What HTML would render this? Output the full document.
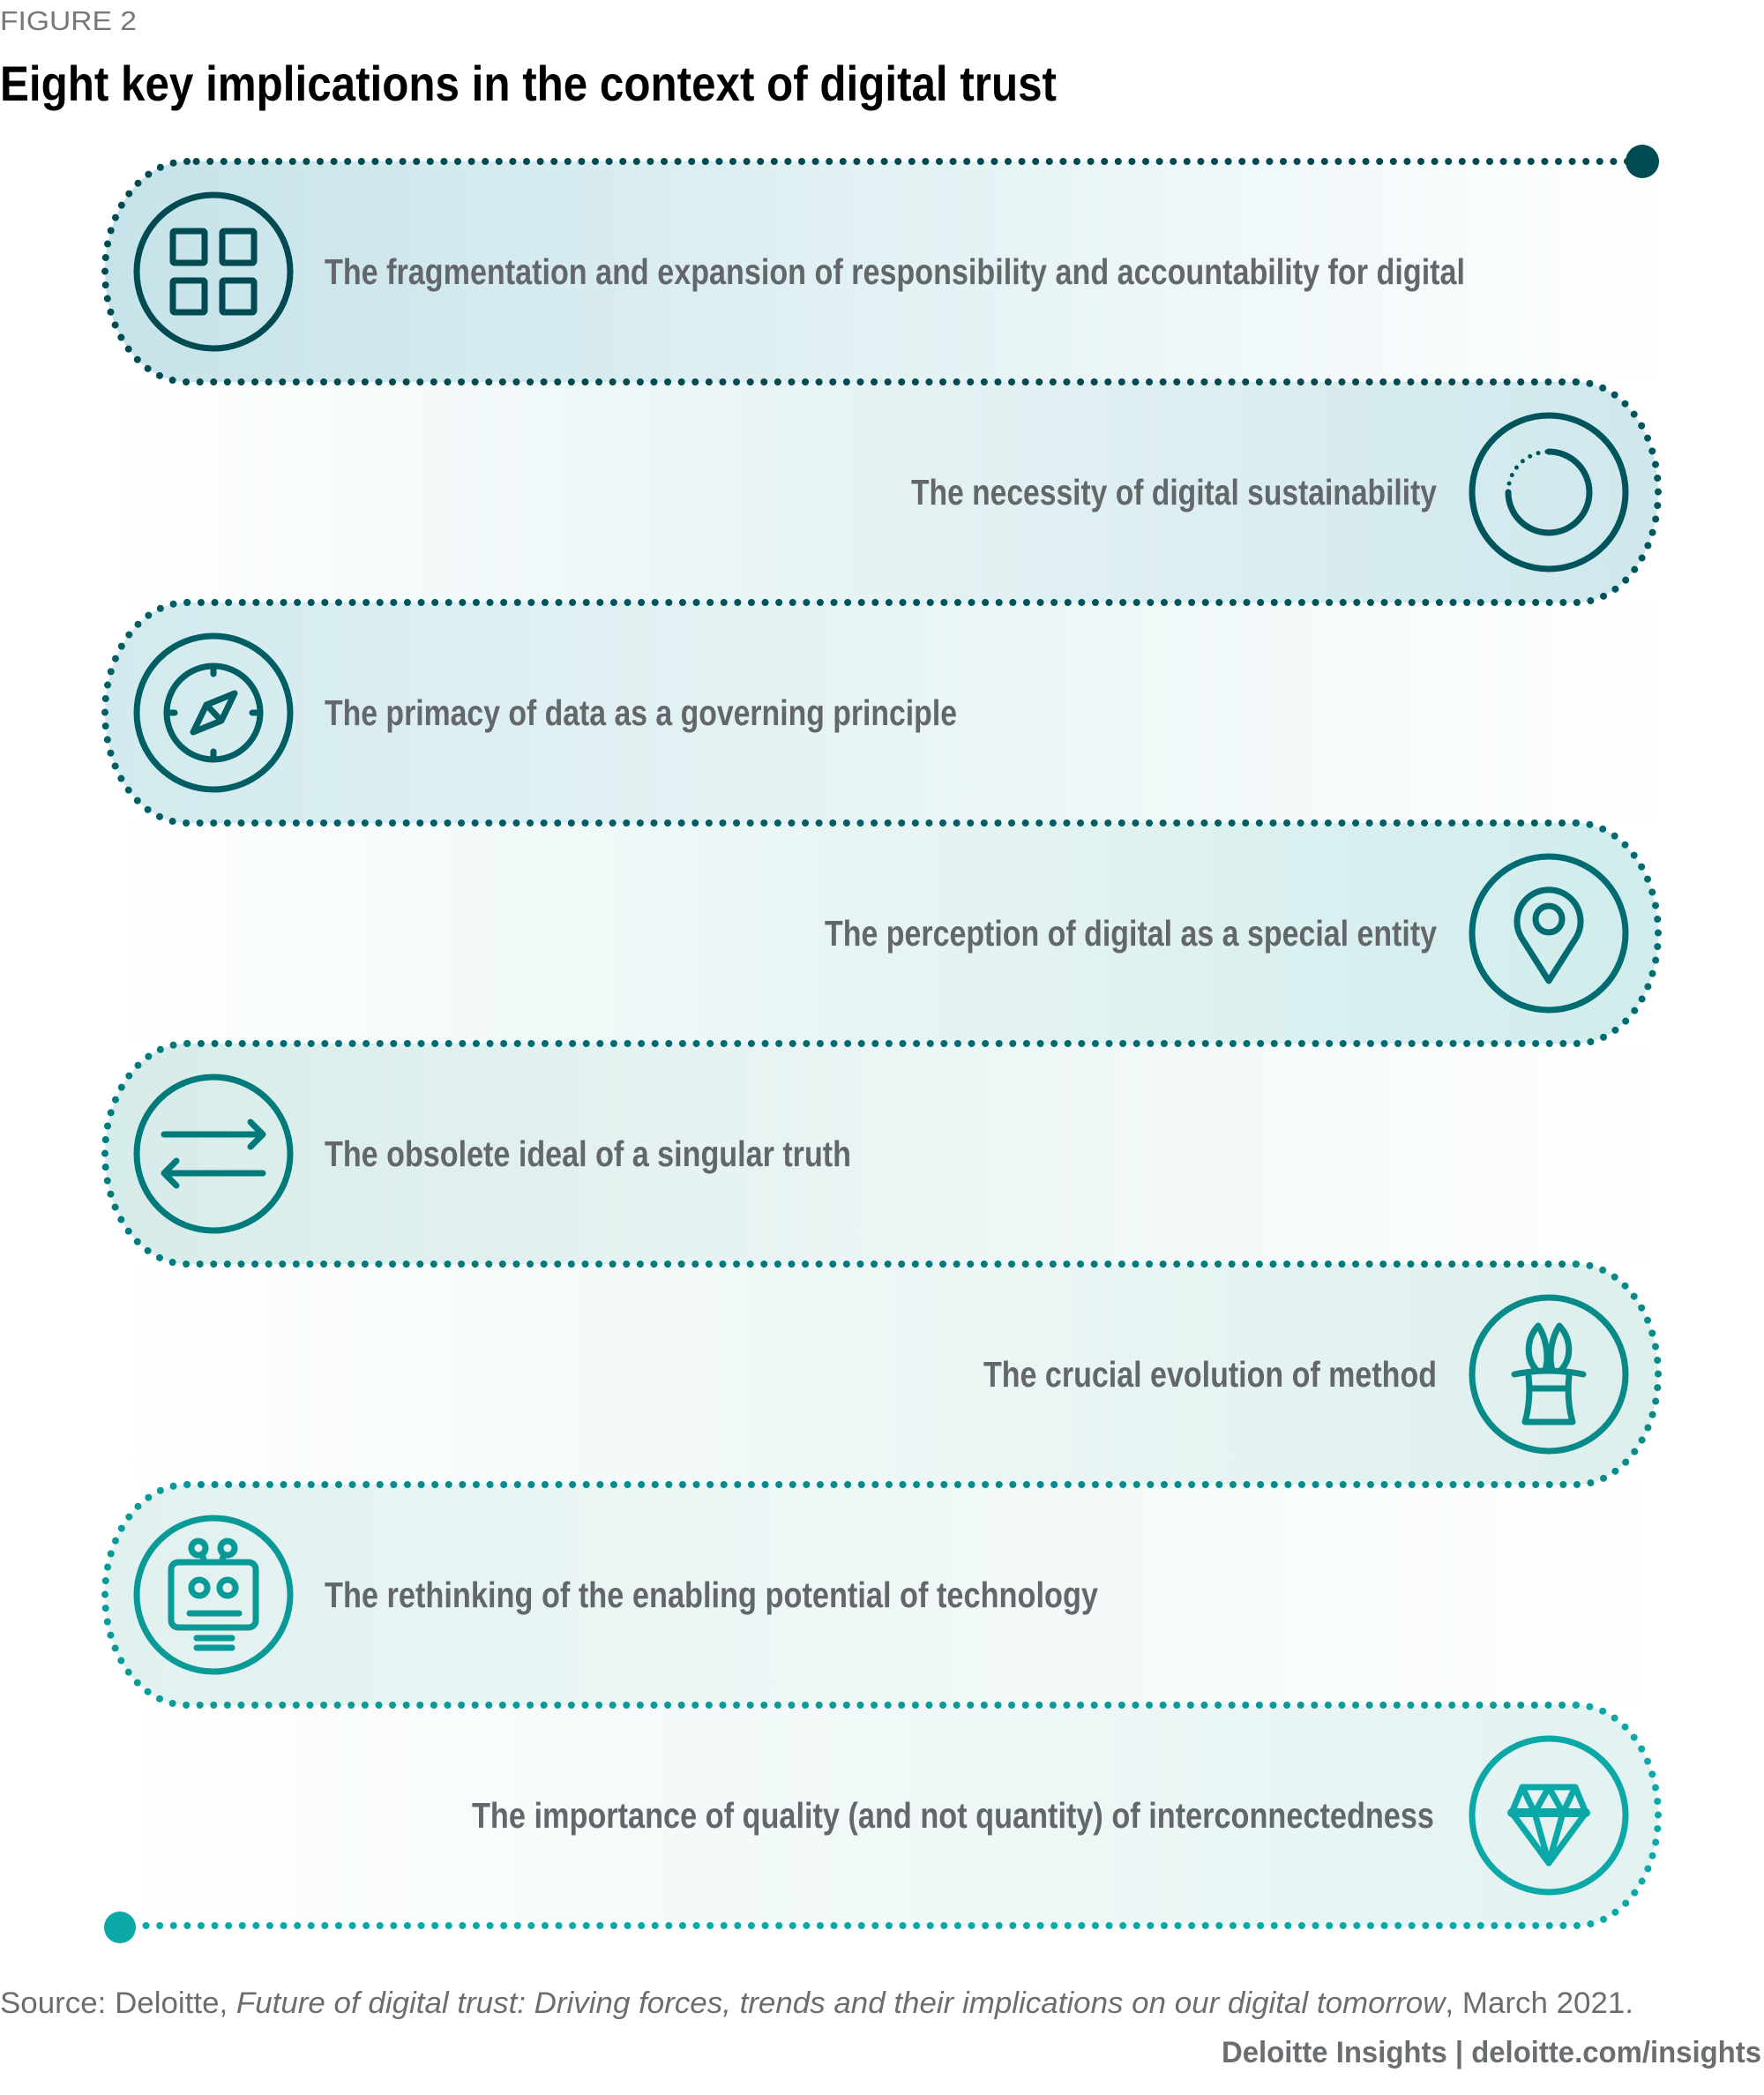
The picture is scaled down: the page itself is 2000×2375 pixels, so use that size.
<!DOCTYPE html>
<html><head><meta charset="utf-8"><style>
html,body{margin:0;padding:0;background:#fff;}
svg{display:block;}
text{font-family:"Liberation Sans",sans-serif;}
</style></head><body>
<svg width="2000" height="2375" viewBox="0 0 2000 2375" xmlns="http://www.w3.org/2000/svg">
<defs>
<linearGradient id="gL0" gradientUnits="userSpaceOnUse" x1="118" x2="1900" y1="0" y2="0"><stop offset="0" stop-color="#c5e3e9"/><stop offset="0.45" stop-color="#e0f0f3"/><stop offset="1" stop-color="#ffffff"/></linearGradient>
<linearGradient id="gR1" gradientUnits="userSpaceOnUse" x1="1880" x2="120" y1="0" y2="0"><stop offset="0" stop-color="#cfe8ec"/><stop offset="0.45" stop-color="#e3f1f3"/><stop offset="1" stop-color="#ffffff"/></linearGradient>
<linearGradient id="gL2" gradientUnits="userSpaceOnUse" x1="118" x2="1900" y1="0" y2="0"><stop offset="0" stop-color="#d2eaee"/><stop offset="0.45" stop-color="#e6f3f4"/><stop offset="1" stop-color="#ffffff"/></linearGradient>
<linearGradient id="gR3" gradientUnits="userSpaceOnUse" x1="1880" x2="120" y1="0" y2="0"><stop offset="0" stop-color="#d0ecec"/><stop offset="0.45" stop-color="#e5f3f3"/><stop offset="1" stop-color="#ffffff"/></linearGradient>
<linearGradient id="gL4" gradientUnits="userSpaceOnUse" x1="118" x2="1900" y1="0" y2="0"><stop offset="0" stop-color="#d6ecea"/><stop offset="0.45" stop-color="#e9f4f3"/><stop offset="1" stop-color="#ffffff"/></linearGradient>
<linearGradient id="gR5" gradientUnits="userSpaceOnUse" x1="1880" x2="120" y1="0" y2="0"><stop offset="0" stop-color="#dcefed"/><stop offset="0.45" stop-color="#ecf6f5"/><stop offset="1" stop-color="#ffffff"/></linearGradient>
<linearGradient id="gL6" gradientUnits="userSpaceOnUse" x1="118" x2="1900" y1="0" y2="0"><stop offset="0" stop-color="#e0f1f0"/><stop offset="0.45" stop-color="#eef7f6"/><stop offset="1" stop-color="#ffffff"/></linearGradient>
<linearGradient id="gR7" gradientUnits="userSpaceOnUse" x1="1880" x2="120" y1="0" y2="0"><stop offset="0" stop-color="#e2f2f1"/><stop offset="0.45" stop-color="#eff8f7"/><stop offset="1" stop-color="#ffffff"/></linearGradient>
</defs>

<!-- fills -->
<path d="M1880 183 H212 A93 125 0 0 0 212 433 H1880 Z" fill="url(#gL0)"/>
<path d="M120 433 H1787 A93 125 0 0 1 1787 683 H120 Z" fill="url(#gR1)"/>
<path d="M1880 683 H212 A93 125 0 0 0 212 933 H1880 Z" fill="url(#gL2)"/>
<path d="M120 933 H1787 A93 125 0 0 1 1787 1183 H120 Z" fill="url(#gR3)"/>
<path d="M1880 1183 H212 A93 125 0 0 0 212 1433 H1880 Z" fill="url(#gL4)"/>
<path d="M120 1433 H1787 A93 125 0 0 1 1787 1683 H120 Z" fill="url(#gR5)"/>
<path d="M1880 1683 H212 A93 125 0 0 0 212 1933 H1880 Z" fill="url(#gL6)"/>
<path d="M120 1933 H1787 A93 125 0 0 1 1787 2183 H120 Z" fill="url(#gR7)"/>

<!-- dotted snake -->
<g fill="none" stroke-width="8" stroke-linecap="round" stroke-dasharray="0 15.6">
<path d="M1845 183 H212" stroke="#004a52"/>
<path d="M212 183 A93 125 0 0 0 212 433 H1787" stroke="#004a52"/>
<path d="M1787 433 A93 125 0 0 1 1787 683 H212" stroke="#00545b"/>
<path d="M212 683 A93 125 0 0 0 212 933 H1787" stroke="#005e64"/>
<path d="M1787 933 A93 125 0 0 1 1787 1183 H212" stroke="#006c72"/>
<path d="M212 1183 A93 125 0 0 0 212 1433 H1787" stroke="#007a7a"/>
<path d="M1787 1433 A93 125 0 0 1 1787 1683 H212" stroke="#088a88"/>
<path d="M212 1683 A93 125 0 0 0 212 1933 H1787" stroke="#099a98"/>
<path d="M1787 1933 A93 125 0 0 1 1787 2183 H150" stroke="#0aa8a6"/>
</g>
<circle cx="1862" cy="183" r="19" fill="#004a52"/>
<circle cx="136" cy="2185" r="18" fill="#0aa8a6"/>

<!-- icons -->
<g fill="none" stroke-width="7" stroke-linecap="round" stroke-linejoin="round">
<!-- 1 squares -->
<g transform="translate(242,308)" stroke="#004a52">
<circle r="87"/>
<rect x="-46" y="-46" width="36" height="36" rx="2"/>
<rect x="10" y="-46" width="36" height="36" rx="2"/>
<rect x="-46" y="10" width="36" height="36" rx="2"/>
<rect x="10" y="10" width="36" height="36" rx="2"/>
</g>
<!-- 2 ring -->
<g transform="translate(1756,558)" stroke="#00545b">
<circle r="87"/>
<path d="M0 -46 A46 46 0 1 1 -46 0"/>
<path d="M-46 0 A46 46 0 0 1 0 -46" stroke-width="5" stroke-dasharray="0 10"/>
</g>
<!-- 3 compass -->
<g transform="translate(242,808)" stroke="#005e64">
<circle r="87"/>
<circle r="53"/>
<path d="M0 -53 V-44 M0 53 V44 M-53 0 H-44 M53 0 H44"/>
<path d="M24 -22 L-8 -9 L-23 22 L9 9 Z M-8 -9 L9 9"/>
</g>
<!-- 4 pin -->
<g transform="translate(1756,1058)" stroke="#006c72">
<circle r="87"/>
<path d="M0 54 L-31 5 A36 36 0 1 1 31 5 Z"/>
<circle cy="-16" r="15"/>
</g>
<!-- 5 arrows -->
<g transform="translate(242,1308)" stroke="#007a7a">
<circle r="87"/>
<path d="M-56 -22 H56 M42 -36 L56 -22 L42 -8"/>
<path d="M56 22 H-56 M-42 8 L-56 22 L-42 36"/>
</g>
<!-- 6 hat -->
<g transform="translate(1756,1558)" stroke="#088a88">
<circle r="87"/>
<path d="M-14 -5 C-26 -18 -26 -40 -12 -55 C-2 -40 0 -18 -4 -5"/>
<path d="M14 -5 C26 -18 26 -40 12 -55 C2 -40 0 -18 4 -5"/>
<path d="M-39 0 Q0 -8 39 0"/>
<path d="M-23 1 Q-20 30 -27 54 H27 Q20 30 23 1"/>
<path d="M-22 16 H22"/>
</g>
<!-- 7 robot -->
<g transform="translate(242,1808)" stroke="#099a98">
<circle r="87"/>
<rect x="-48" y="-37" width="96" height="74" rx="8"/>
<circle cx="-17" cy="-53" r="8"/>
<circle cx="16" cy="-53" r="8"/>
<path d="M-13 -46 L-10 -37 M12 -46 L9 -37"/>
<circle cx="-16" cy="-8" r="9"/>
<circle cx="16" cy="-8" r="9"/>
<path d="M-27 21 H29 M-19 49 H21 M-19 60 H21"/>
</g>
<!-- 8 diamond -->
<g transform="translate(1756,2058)" stroke="#0aa8a6">
<circle r="87"/>
<path d="M-30 -32 H30 L42 -3 L0 54 L-42 -3 Z"/>
<path d="M-42 -3 H42" stroke-width="10"/>
<path d="M-30 -32 L-16 -3 L0 -32 L16 -3 L30 -32 M-16 -3 L0 54 L16 -3"/>
</g>
</g>

<!-- texts -->
<text x="0" y="34" font-size="31" fill="#75787b" textLength="155" lengthAdjust="spacingAndGlyphs">FIGURE 2</text>
<text x="0" y="114" font-size="56" font-weight="bold" fill="#000" textLength="1198" lengthAdjust="spacingAndGlyphs">Eight key implications in the context of digital trust</text>

<g font-size="41" font-weight="bold" fill="#63666a">
<text x="368" y="322" textLength="1293" lengthAdjust="spacingAndGlyphs">The fragmentation and expansion of responsibility and accountability for digital</text>
<text x="1033" y="572" textLength="596" lengthAdjust="spacingAndGlyphs">The necessity of digital sustainability</text>
<text x="368" y="822" textLength="717" lengthAdjust="spacingAndGlyphs">The primacy of data as a governing principle</text>
<text x="935" y="1072" textLength="694" lengthAdjust="spacingAndGlyphs">The perception of digital as a special entity</text>
<text x="368" y="1322" textLength="597" lengthAdjust="spacingAndGlyphs">The obsolete ideal of a singular truth</text>
<text x="1115" y="1572" textLength="514" lengthAdjust="spacingAndGlyphs">The crucial evolution of method</text>
<text x="368" y="1822" textLength="877" lengthAdjust="spacingAndGlyphs">The rethinking of the enabling potential of technology</text>
<text x="535" y="2072" textLength="1091" lengthAdjust="spacingAndGlyphs">The importance of quality (and not quantity) of interconnectedness</text>
</g>

<text x="0" y="2282" font-size="34" fill="#6b6e71" textLength="1852" lengthAdjust="spacingAndGlyphs">Source: Deloitte, <tspan font-style="italic">Future of digital trust: Driving forces, trends and their implications on our digital tomorrow</tspan>, March 2021.</text>
<text x="1385" y="2338" font-size="34" font-weight="bold" fill="#6b6e71" textLength="612" lengthAdjust="spacingAndGlyphs">Deloitte Insights | deloitte.com/insights</text>
</svg>
</body></html>
